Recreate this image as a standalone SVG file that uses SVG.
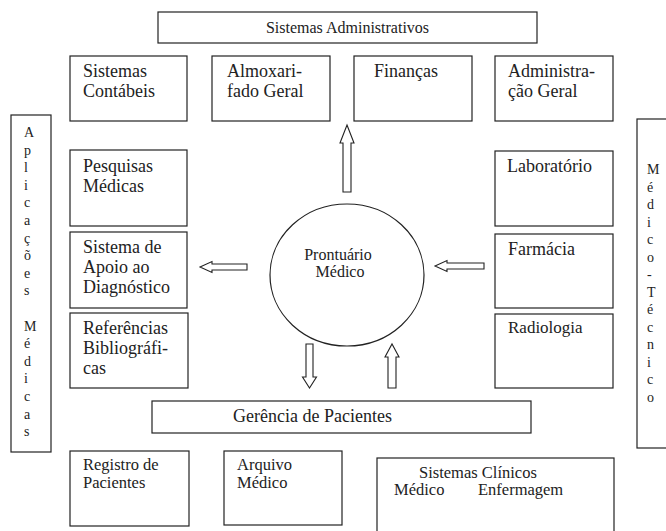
<svg xmlns="http://www.w3.org/2000/svg" width="666" height="531" viewBox="0 0 666 531" font-family="'Liberation Serif', 'DejaVu Serif', serif">
<style>
.box{fill:#fff;stroke:#222;stroke-width:1.2}
.arrow{fill:#fff;stroke:#222;stroke-width:1.1;stroke-linejoin:miter}
text{font-family:'Liberation Serif','DejaVu Serif',serif;fill:#222}
.t18{font-size:18px}
.t17{font-size:17px}
.t16{font-size:16.5px}
.t15{font-size:16px}
.col{font-size:14px}
</style>
<rect width="666" height="531" fill="#fff"/>
<g id="sistemas-administrativos">
<rect class="box" x="158" y="12" width="379" height="31"/>
<text class="t15" x="347.5" y="33" text-anchor="middle">Sistemas Administrativos</text>
</g>
<g id="sistemas-contabeis">
<rect class="box" x="70" y="56" width="117" height="65"/>
<text class="t18" x="83" y="77">Sistemas</text>
<text class="t18" x="83" y="97">Contábeis</text>
</g>
<g id="almoxarifado">
<rect class="box" x="212" y="56" width="118" height="65"/>
<text class="t18" x="227" y="77">Almoxari-</text>
<text class="t18" x="227" y="97">fado Geral</text>
</g>
<g id="financas">
<rect class="box" x="354" y="56" width="118" height="65"/>
<text class="t18" x="374" y="77">Finanças</text>
</g>
<g id="administracao">
<rect class="box" x="495" y="56" width="118" height="65"/>
<text class="t18" x="508" y="77">Administra-</text>
<text class="t18" x="508" y="97">ção Geral</text>
</g>
<g id="aplicacoes-medicas">
<rect class="box" x="11" y="115" width="40" height="337"/>
<text class="col" x="24" y="137">A</text>
<text class="col" x="24" y="154.6">p</text>
<text class="col" x="24" y="172.2">l</text>
<text class="col" x="24" y="189.8">i</text>
<text class="col" x="24" y="207.4">c</text>
<text class="col" x="24" y="225">a</text>
<text class="col" x="24" y="242.6">ç</text>
<text class="col" x="24" y="260.2">õ</text>
<text class="col" x="24" y="277.8">e</text>
<text class="col" x="24" y="295.4">s</text>
<text class="col" x="24" y="330.6">M</text>
<text class="col" x="24" y="348.2">é</text>
<text class="col" x="24" y="365.8">d</text>
<text class="col" x="24" y="383.4">i</text>
<text class="col" x="24" y="401">c</text>
<text class="col" x="24" y="418.6">a</text>
<text class="col" x="24" y="436.2">s</text>
</g>
<g id="pesquisas-medicas">
<rect class="box" x="70" y="150" width="117" height="76"/>
<text class="t18" x="83" y="172">Pesquisas</text>
<text class="t18" x="83" y="192">Médicas</text>
</g>
<g id="apoio-diagnostico">
<rect class="box" x="70" y="232" width="117" height="76"/>
<text class="t18" x="83" y="253">Sistema de</text>
<text class="t18" x="83" y="273">Apoio ao</text>
<text class="t18" x="83" y="293">Diagnóstico</text>
</g>
<g id="referencias">
<rect class="box" x="70" y="313" width="118" height="75"/>
<text class="t18" x="83" y="334">Referências</text>
<text class="t18" x="83" y="354">Bibliográfi-</text>
<text class="t18" x="83" y="374">cas</text>
</g>
<g id="laboratorio">
<rect class="box" x="495" y="151" width="118" height="75"/>
<text class="t18" x="507" y="172">Laboratório</text>
</g>
<g id="farmacia">
<rect class="box" x="495" y="234" width="118" height="74"/>
<text class="t18" x="508" y="255">Farmácia</text>
</g>
<g id="radiologia">
<rect class="box" x="495" y="314" width="118" height="74"/>
<text class="t17" x="508" y="333">Radiologia</text>
</g>
<g id="medico-tecnico">
<rect class="box" x="637" y="119" width="40" height="329"/>
<text class="col" x="647" y="174">M</text>
<text class="col" x="647" y="191.5">é</text>
<text class="col" x="647" y="209">d</text>
<text class="col" x="647" y="226.5">i</text>
<text class="col" x="647" y="244">c</text>
<text class="col" x="647" y="261.5">o</text>
<text class="col" x="647" y="279">-</text>
<text class="col" x="647" y="296.5">T</text>
<text class="col" x="647" y="314">é</text>
<text class="col" x="647" y="331.5">c</text>
<text class="col" x="647" y="349">n</text>
<text class="col" x="647" y="366.5">i</text>
<text class="col" x="647" y="384">c</text>
<text class="col" x="647" y="401.5">o</text>
</g>
<g id="prontuario">
<ellipse class="box" cx="347" cy="275" rx="77" ry="71"/>
<text class="t15" x="338" y="260" text-anchor="middle">Prontuário</text>
<text class="t15" x="340" y="277" text-anchor="middle">Médico</text>
</g>
<g id="gerencia-pacientes">
<rect class="box" x="152" y="401" width="379" height="32"/>
<text class="t18" x="233" y="422">Gerência de Pacientes</text>
</g>
<g id="registro-pacientes">
<rect class="box" x="70" y="451" width="119" height="75"/>
<text class="t16" x="83" y="470">Registro de</text>
<text class="t16" x="83" y="488">Pacientes</text>
</g>
<g id="arquivo-medico">
<rect class="box" x="224" y="451" width="118" height="74"/>
<text class="t16" x="237" y="470">Arquivo</text>
<text class="t16" x="237" y="488">Médico</text>
</g>
<g id="sistemas-clinicos">
<rect class="box" x="377" y="458" width="237" height="80"/>
<text class="t16" x="419" y="478">Sistemas Clínicos</text>
<text class="t16" x="394" y="495">Médico</text>
<text class="t16" x="478" y="495">Enfermagem</text>
</g>
<g id="connectors">
<polygon class="arrow" points="347,125 354,143 351,143 351,192 343,192 343,143 340,143"/>
<polygon class="arrow" points="200,267 212,261.5 212,264 247,264 247,270 212,270 212,272.5"/>
<polygon class="arrow" points="435,266 447,260.5 447,263 484,263 484,269 447,269 447,271.5"/>
<polygon class="arrow" points="306,344 313,344 313,377 316.5,377 309.5,388 302.5,377 306,377"/>
<polygon class="arrow" points="388,388 396,388 396,357 399,357 392,344 385,357 388,357"/>
</g>
</svg>
